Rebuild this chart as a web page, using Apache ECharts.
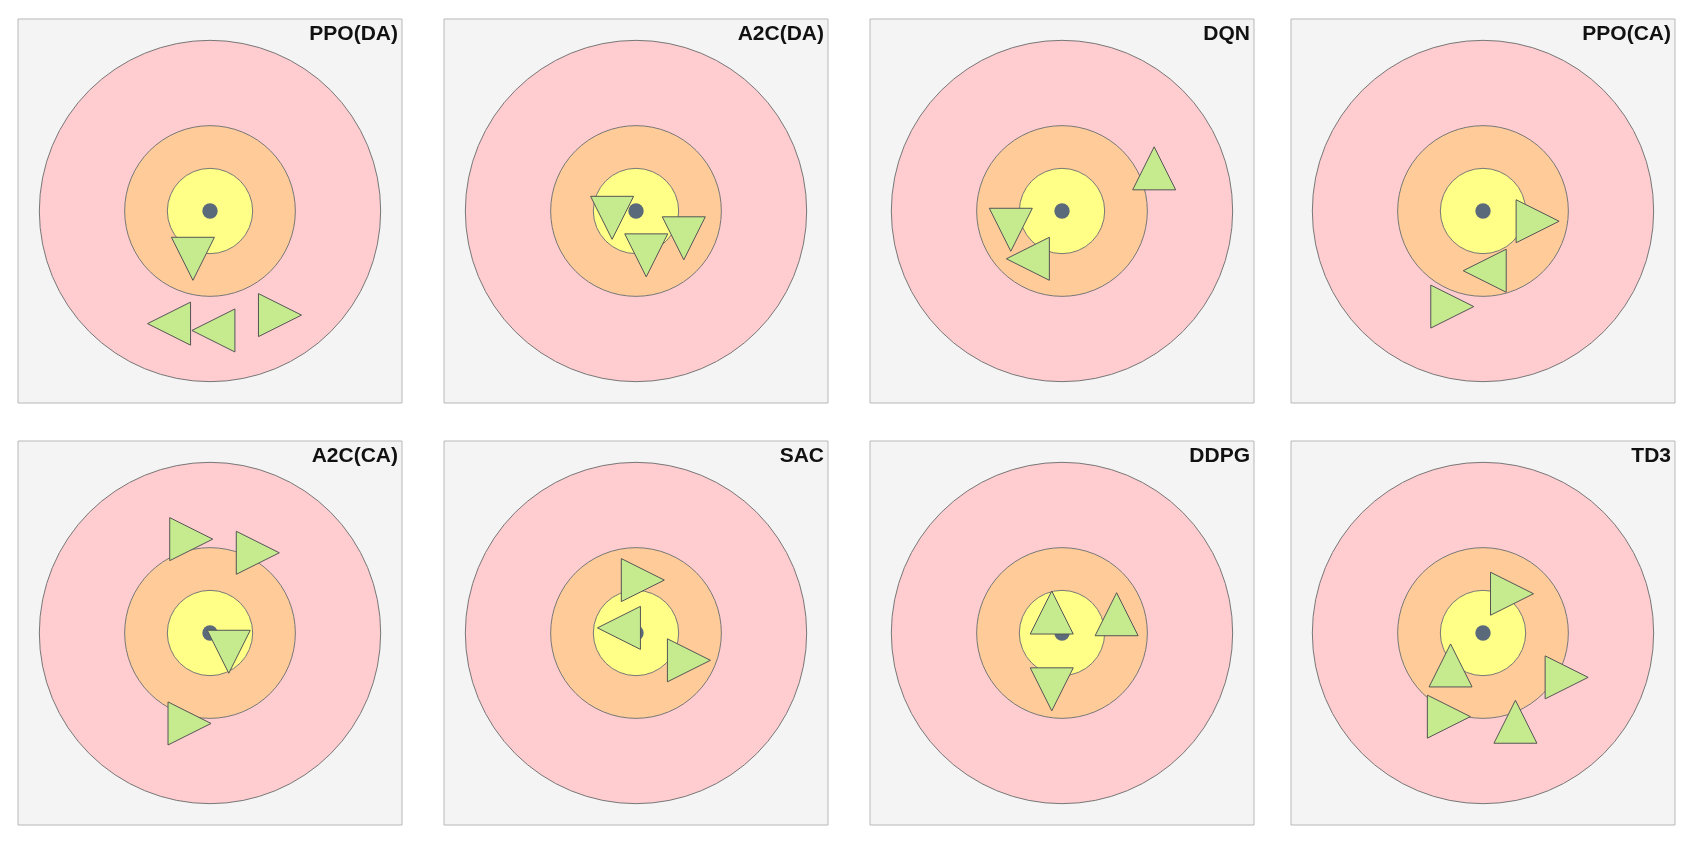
<!DOCTYPE html>
<html><head><meta charset="utf-8">
<script src="https://cdn.jsdelivr.net/npm/echarts@6/dist/echarts.min.js"></script>
<style>html,body{margin:0;padding:0;background:#fff}#c{width:1695px;height:858px}</style>
</head><body><div id="c"></div>
<script>
const titles = ['PPO(DA)','A2C(DA)','DQN','PPO(CA)','A2C(CA)','SAC','DDPG','TD3'];
const ringRadii = [1.0, 0.5, 0.25];
const ringColors = ['#ffccd0','#ffcc99','#ffff88'];
// markers: [x, y, direction]
const markers = [
  [[-0.10,-0.28,'down'],[-0.24,-0.66,'left'],[0.02,-0.70,'left'],[0.41,-0.61,'right']],
  [[-0.14,-0.04,'down'],[0.06,-0.26,'down'],[0.28,-0.16,'down']],
  [[0.54,0.25,'up'],[-0.30,-0.11,'down'],[-0.20,-0.28,'left']],
  [[0.32,-0.06,'right'],[0.01,-0.35,'left'],[-0.18,-0.56,'right']],
  [[-0.11,0.55,'right'],[0.28,0.47,'right'],[0.11,-0.11,'down'],[-0.12,-0.53,'right']],
  [[0.04,0.31,'right'],[-0.10,0.03,'left'],[0.31,-0.16,'right']],
  [[-0.06,0.12,'up'],[0.32,0.11,'up'],[-0.06,-0.33,'down']],
  [[0.17,0.23,'right'],[-0.19,-0.19,'up'],[0.49,-0.26,'right'],[-0.20,-0.49,'right'],[0.19,-0.52,'up']]
];
const rot = {up:0, down:180, left:90, right:-90};
const lefts = [18, 444, 870, 1291], tops = [19, 441], W = 384;
const grid=[], xAxis=[], yAxis=[], series=[], graphic=[];
titles.forEach((t,i)=>{
  const l = lefts[i%4], tp = tops[Math.floor(i/4)];
  grid.push({left:l, top:tp, width:W, height:W, show:true, backgroundColor:'#f4f4f4', borderColor:'#b8b8b8', borderWidth:1});
  xAxis.push({gridIndex:i, type:'value', min:-1.125, max:1.125, show:false});
  yAxis.push({gridIndex:i, type:'value', min:-1.125, max:1.125, show:false});
  series.push({type:'custom', xAxisIndex:i, yAxisIndex:i, data:[[0,0]], silent:true,
    renderItem:(p,api)=>{
      const c = api.coord([0,0]);
      const ch = ringRadii.map((r,k)=>({type:'circle', shape:{cx:c[0], cy:c[1], r:api.size([r,0])[0]},
        style:{fill:ringColors[k], stroke:'#777', lineWidth:1}}));
      ch.push({type:'circle', shape:{cx:c[0], cy:c[1], r:api.size([0.045,0])[0]}, style:{fill:'#5a6a7a'}});
      return {type:'group', children:ch};
    }});
  series.push({type:'scatter', xAxisIndex:i, yAxisIndex:i, symbol:'triangle', symbolSize:43, silent:true,
    data: markers[i].map(m=>({value:[m[0],m[1]], symbolRotate:rot[m[2]]})),
    itemStyle:{color:'#c6eb8f', borderColor:'#555', borderWidth:1, opacity:1}});
  graphic.push({type:'text', right:1695-(l+W)+4, top:tp+5, style:{text:t, font:'bold 21px Arial, "Liberation Sans", sans-serif', fill:'#111'}});
});
const chart = echarts.init(document.getElementById('c'));
chart.setOption({animation:false, grid, xAxis, yAxis, series, graphic});
</script></body></html>
